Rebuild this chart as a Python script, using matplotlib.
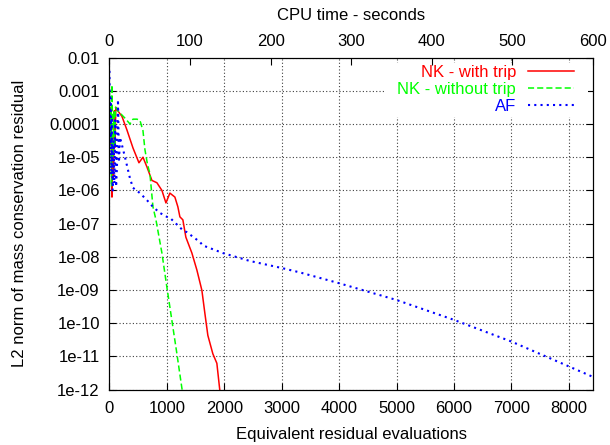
import matplotlib
matplotlib.use("Agg")
import matplotlib.pyplot as plt
from matplotlib.patches import Rectangle

plt.rcParams['font.family'] = ['Liberation Sans', 'DejaVu Sans']
plt.rcParams['font.size'] = 12

# NK - with trip
red_x = [0, 15, 30, 43, 55, 70, 85, 96, 110, 130, 217, 304, 409, 513, 583, 652,
         739, 826, 913, 983, 1052, 1139, 1191, 1226, 1278, 1330, 1435, 1522,
         1609, 1661, 1713, 1800, 1870, 1922, 1950]
red_y = [4e-4, 2.5e-5, 1e-4, 6.3e-7, 4e-5, 2.5e-6, 2.5e-4, 2e-5, 3.2e-4, 2.7e-4,
         1.7e-4, 6.6e-5, 1.9e-5, 6.8e-6, 1e-5, 5.1e-6, 2e-6, 1.7e-6, 1e-6,
         4.2e-7, 8.3e-7, 6.3e-7, 3.2e-7, 1.6e-7, 1.3e-7, 3.9e-8, 1.3e-8, 4e-9,
         9.8e-10, 2e-10, 4.3e-11, 1.2e-11, 6.2e-12, 9.3e-13, 5e-13]

# NK - without trip
green_x = [0, 15, 25, 35, 43, 60, 75, 90, 105, 130, 200, 270, 357, 409, 478, 530,
           583, 617, 660, 704, 757, 809, 913, 1000, 1087, 1174, 1261, 1280]
green_y = [1e-3, 3.2e-5, 3.2e-4, 1.3e-6, 1.5e-3, 1e-5, 2.5e-4, 2e-5, 3.2e-4,
           2.7e-4, 2e-4, 1.5e-4, 1e-4, 1.4e-4, 1.4e-4, 1.3e-4, 6.3e-5, 1.7e-5,
           6.3e-6, 3.2e-6, 3.2e-7, 1.3e-7, 1.3e-8, 1.2e-9, 1.2e-10, 1.2e-11,
           1.1e-12, 7e-13]

# AF
blue_x = [0, 10, 20, 30, 40, 55, 70, 85, 100, 115, 130, 148, 165, 183, 270, 357,
          409, 530, 652, 757, 878, 1000, 1052, 1278, 1348, 1574, 1626, 1974,
          2443, 3000, 3313, 4000, 5000, 6000, 7000, 8000, 8400]
blue_y = [4e-3, 3e-5, 6e-4, 3e-6, 1.6e-4, 1e-6, 3e-5, 1.6e-6, 1.3e-4, 1.3e-6,
          5e-6, 5.4e-4, 7e-6, 4e-5, 1e-5, 2.3e-6, 1.2e-6, 8.3e-7, 5.1e-7,
          3.2e-7, 2.1e-7, 1.6e-7, 1.5e-7, 6.3e-8, 5.5e-8, 2.8e-8, 2.2e-8,
          1.3e-8, 7.5e-9, 4.6e-9, 3.4e-9, 1.6e-9, 5e-10, 1.26e-10, 2.8e-11,
          5e-12, 2.5e-12]

y_ticks = [1e-2, 1e-3, 1e-4, 1e-5, 1e-6, 1e-7, 1e-8, 1e-9, 1e-10, 1e-11, 1e-12]
y_labels = ['0.01', '0.001', '0.0001', '1e-05', '1e-06', '1e-07', '1e-08',
            '1e-09', '1e-10', '1e-11', '1e-12']
x_ticks = [0, 1000, 2000, 3000, 4000, 5000, 6000, 7000, 8000]
x2_ticks = [0, 100, 200, 300, 400, 500, 600]

fig = plt.figure(figsize=(6.1, 4.45), dpi=100)
ax = fig.add_axes([0.1795, 0.1245, 0.7925, 0.746])

ax.plot(red_x, red_y, color='#ff0000', lw=1.1, label='NK - with trip')
ax.plot(green_x, green_y, color='#00ff00', lw=1.1, ls=(0, (4, 2)),
        label='NK - without trip')
ax.plot(blue_x, blue_y, color='#0000ff', lw=1.5, ls=(0, (1, 2)), label='AF')

ax.set_yscale('log')
ax.set_ylim(1e-12, 1e-2)
ax.set_xlim(0, 8420)
ax.set_yticks(y_ticks)
ax.set_yticklabels(y_labels)
ax.minorticks_off()
ax.set_xticks(x_ticks)
ax.grid(True, color='0.25', ls=(0, (1, 2)), lw=0.8)
ax.tick_params(axis='y', direction='in', length=5, right=True, pad=7)
ax.tick_params(axis='x', direction='in', length=5, top=True, pad=8)
ax.set_xlabel('Equivalent residual evaluations', labelpad=8)
ax.set_ylabel('L2 norm of mass conservation residual', labelpad=16)

# white key background (hides grid under the legend, like gnuplot)
ax.add_patch(Rectangle((0.57, 0.821), 0.42, 0.162, transform=ax.transAxes,
                       facecolor='white', edgecolor='none', zorder=1.6))

ax2 = ax.twiny()
ax2.set_xlim(0, 600)
ax2.set_xticks(x2_ticks)
ax2.tick_params(axis='x', direction='in', length=5, pad=6)
ax2.set_xlabel('CPU time - seconds', labelpad=10)

leg = ax.legend(loc='upper right', bbox_to_anchor=(0.96, 0.978),
                markerfirst=False, frameon=False, labelcolor='linecolor',
                handlelength=2.75, handletextpad=0.7, labelspacing=0.12,
                borderpad=0, borderaxespad=0)

fig.savefig('out.png', dpi=100)
